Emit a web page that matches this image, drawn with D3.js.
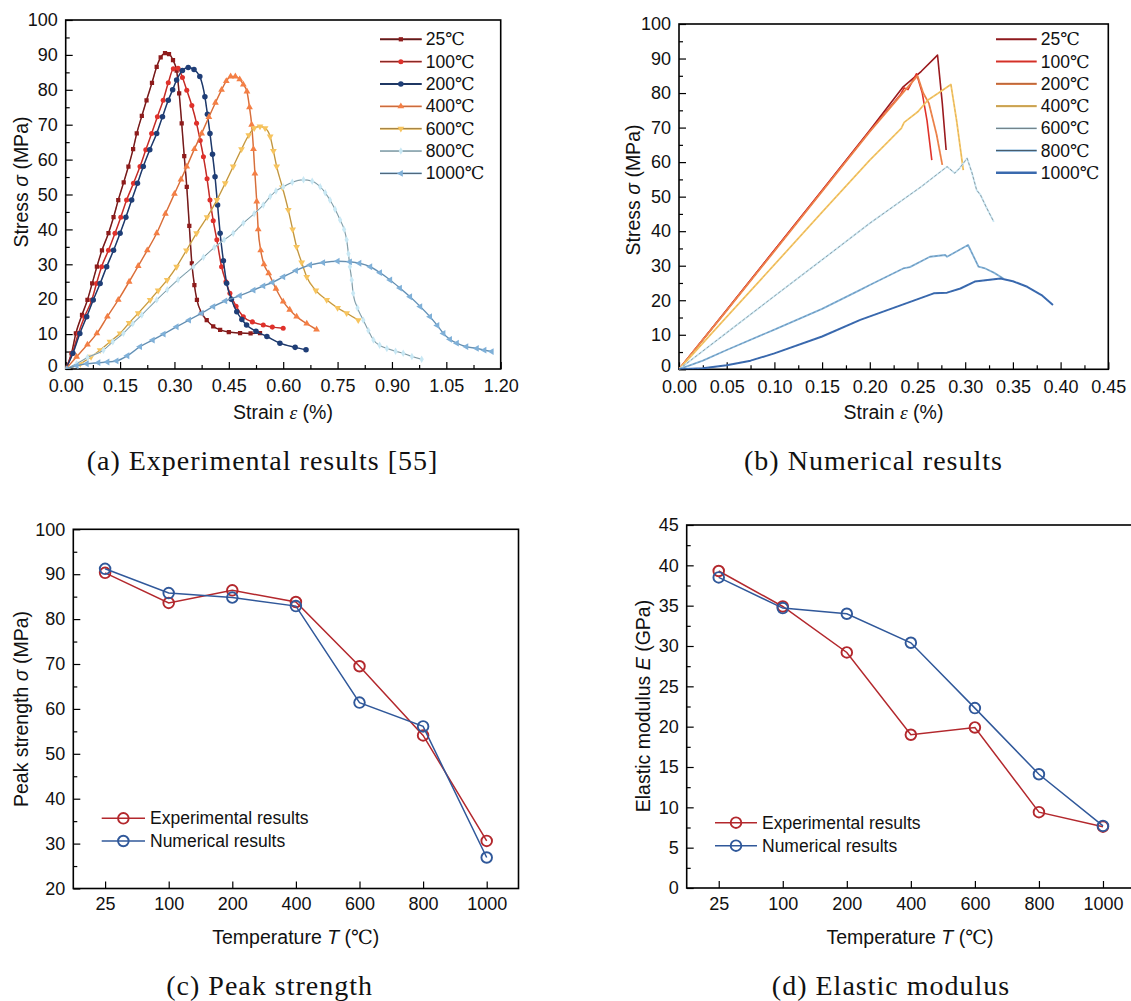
<!DOCTYPE html>
<html><head><meta charset="utf-8">
<script src="https://cdn.jsdelivr.net/npm/d3@7"></script>
<style>
body{margin:0;background:#fff}
svg{display:block}
text{font-family:"Liberation Sans",Arial,sans-serif;fill:#111}
</style>
</head><body>
<script>
// ---------------- DATA ----------------
const temps = ["25", "100", "200", "400", "600", "800", "1000"];

// (a) experimental stress-strain curves: [strain %, stress MPa]
const exp25 = [[0,0],[0.016,4.5],[0.028,10.2],[0.045,15.5],[0.060,19.8],[0.073,24.5],[0.086,29.3],[0.100,34],[0.118,38.9],[0.132,43.5],[0.145,48.4],[0.160,53.5],[0.173,58],[0.186,63],[0.196,67.5],[0.210,72.5],[0.223,77],[0.238,82],[0.251,86.6],[0.262,89.3],[0.274,90.5],[0.285,90.2],[0.296,88.5],[0.306,85.5],[0.313,79],[0.320,70.4],[0.327,61],[0.334,52.2],[0.341,41],[0.348,30.3],[0.355,24],[0.362,19.8],[0.375,16],[0.389,14],[0.407,12.2],[0.426,11.2],[0.450,10.6],[0.481,10.3],[0.510,10.2],[0.536,10.3]];
const exp100 = [[0,0],[0.018,4.5],[0.035,10.2],[0.052,15],[0.072,19.8],[0.085,24.5],[0.099,29.3],[0.118,34],[0.136,38.9],[0.152,43.5],[0.168,48.4],[0.187,53.2],[0.205,58],[0.221,62.8],[0.237,67.5],[0.253,72.3],[0.269,77],[0.283,82],[0.297,86],[0.310,86.2],[0.322,83.5],[0.334,79.9],[0.348,75.5],[0.361,70.4],[0.371,65.5],[0.380,60.8],[0.390,54.5],[0.398,48.4],[0.407,42.5],[0.417,37],[0.430,29.3],[0.442,25],[0.453,21.7],[0.470,18],[0.490,15],[0.515,13.5],[0.545,12.6],[0.570,12],[0.600,11.7]];
const exp200 = [[0,0],[0.020,4.5],[0.039,10.2],[0.058,15],[0.076,19.8],[0.095,24.5],[0.113,29.3],[0.132,34],[0.150,38.9],[0.166,43.5],[0.182,48.4],[0.198,53.2],[0.214,58],[0.232,62.8],[0.251,67.5],[0.267,72.3],[0.283,77],[0.295,80],[0.306,82.8],[0.322,85.5],[0.338,86.4],[0.354,85.8],[0.370,83.8],[0.384,78],[0.391,73],[0.398,67.5],[0.405,61.5],[0.412,55.1],[0.419,47],[0.426,38.9],[0.435,31],[0.444,24.6],[0.457,20],[0.472,16.4],[0.486,14.2],[0.499,12.6],[0.525,10.8],[0.555,9.3],[0.591,7.4],[0.633,6.2],[0.663,5.5]];
const exp400 = [[0,0],[0.030,3.5],[0.060,7],[0.086,10.2],[0.115,15],[0.145,19.8],[0.175,25],[0.200,29.5],[0.225,34],[0.251,38.9],[0.275,44.5],[0.300,50.2],[0.318,54.3],[0.334,58],[0.355,63],[0.375,67.5],[0.395,72.2],[0.413,76.3],[0.430,80],[0.443,82.5],[0.455,83.8],[0.468,83.8],[0.480,83],[0.490,81.5],[0.500,79.5],[0.507,75],[0.513,70],[0.518,63],[0.522,56],[0.527,48],[0.531,40],[0.538,34],[0.547,30],[0.560,27.4],[0.580,23],[0.600,19.3],[0.618,17],[0.637,15],[0.665,13],[0.692,11.3]];
const exp600 = [[0,0],[0.040,1.5],[0.070,3.5],[0.095,5.4],[0.122,7.8],[0.150,10.2],[0.175,13.2],[0.200,16],[0.233,19.8],[0.255,22.5],[0.280,25.5],[0.306,29.3],[0.333,34],[0.361,38.9],[0.390,43.5],[0.417,48.4],[0.440,53.2],[0.462,58],[0.485,63],[0.505,67],[0.520,69],[0.536,69.5],[0.550,69],[0.564,66.6],[0.573,62.5],[0.582,58],[0.598,52],[0.614,45.6],[0.626,40],[0.637,35],[0.651,30.5],[0.665,26.4],[0.690,22.5],[0.720,19.8],[0.750,17.5],[0.775,16],[0.807,14]];
const exp800 = [[0,0],[0.030,1.5],[0.060,3.3],[0.104,5.4],[0.130,7.8],[0.159,10.2],[0.185,13],[0.210,15.5],[0.251,19.8],[0.280,22.7],[0.310,25.6],[0.352,29.3],[0.380,32],[0.410,34.8],[0.437,37],[0.462,38.9],[0.490,41.8],[0.520,44.5],[0.545,47],[0.564,49.4],[0.580,51],[0.600,52.2],[0.625,53.5],[0.656,54.2],[0.680,53.8],[0.702,52.2],[0.716,50.5],[0.729,48.4],[0.743,45.8],[0.757,42.7],[0.768,40],[0.775,37],[0.780,33],[0.784,29.3],[0.789,25.5],[0.793,21.7],[0.805,17.5],[0.821,14],[0.835,11],[0.849,8.3],[0.866,6.8],[0.886,5.9],[0.910,5.1],[0.931,4.5],[0.955,3.6],[0.982,2.8]];
const exp1000 = [[0,0],[0.030,0.9],[0.058,1.5],[0.090,1.8],[0.115,2],[0.140,2.3],[0.170,3.8],[0.205,6.4],[0.240,8.3],[0.270,10],[0.306,12.1],[0.340,14],[0.375,16],[0.407,17.9],[0.440,19.5],[0.480,21],[0.518,22.6],[0.545,23.8],[0.570,24.8],[0.600,26.4],[0.635,28.2],[0.674,29.8],[0.710,30.5],[0.750,30.9],[0.784,30.7],[0.810,30.3],[0.840,29.3],[0.867,27.6],[0.895,25.5],[0.922,23.2],[0.950,20.7],[0.978,17.9],[1.005,15],[1.025,12.5],[1.042,10.2],[1.060,8.5],[1.079,7.4],[1.105,6.4],[1.134,5.9],[1.155,5.4],[1.175,5.0]];

// (b) numerical stress-strain curves
const num25 = [[0,0],[0.05,17.2],[0.10,34.5],[0.15,51.8],[0.20,69.2],[0.235,81.8],[0.254,86.3],[0.271,91],[0.276,77],[0.280,63.5]];
const num100 = [[0,0],[0.05,17.2],[0.10,34.5],[0.15,51.8],[0.20,69],[0.232,79.5],[0.236,81.5],[0.240,81],[0.249,85.6],[0.255,80],[0.260,72],[0.265,60.6]];
const num200 = [[0,0],[0.05,17],[0.10,34.2],[0.15,51.5],[0.20,68.8],[0.236,80.5],[0.250,85],[0.256,80],[0.262,77],[0.270,68],[0.276,59.2]];
const num400 = [[0,0],[0.05,15.2],[0.10,30.3],[0.15,45.5],[0.20,60.6],[0.233,69.8],[0.236,71.5],[0.250,74.5],[0.261,78],[0.272,80],[0.285,82.5],[0.291,72],[0.298,57.7]];
const num600 = [[0,0],[0.05,10.6],[0.10,21.2],[0.15,31.7],[0.20,42.3],[0.254,52.9],[0.281,58.7],[0.289,56.8],[0.294,58.2],[0.302,61.1],[0.307,57],[0.312,51.9],[0.316,50.5],[0.322,47],[0.330,42.7]];
const num800 = [[0,0],[0.025,2.5],[0.05,5.6],[0.10,11.5],[0.15,17.5],[0.19,23],[0.20,24.4],[0.235,29.2],[0.242,29.6],[0.263,32.6],[0.279,33.1],[0.281,32.6],[0.303,36],[0.314,29.7],[0.321,29.2],[0.330,28],[0.340,26.3]];
const num1000 = [[0,0],[0.025,0.3],[0.05,1.2],[0.075,2.5],[0.10,4.6],[0.15,9.5],[0.19,14.3],[0.23,18.3],[0.267,22],[0.281,22.2],[0.295,23.4],[0.310,25.4],[0.337,26.3],[0.350,25.5],[0.365,23.9],[0.380,21.5],[0.392,18.6]];

// (c) peak strength (MPa)
const peakExp = [90.3, 83.6, 86.4, 83.8, 69.5, 54.1, 30.6];
const peakNum = [91.2, 85.8, 84.8, 82.9, 61.4, 56.1, 26.9];
// (d) elastic modulus (GPa)
const modExp = [39.3, 34.9, 29.2, 19.0, 19.9, 9.4, 7.6];
const modNum = [38.5, 34.7, 34.0, 30.4, 22.3, 14.1, 7.7];

// tick values
const aXTicks = [0, 0.15, 0.30, 0.45, 0.60, 0.75, 0.90, 1.05, 1.20];
const bXTicks = [0, 0.05, 0.10, 0.15, 0.20, 0.25, 0.30, 0.35, 0.40, 0.45];
const stressTicks = [0, 10, 20, 30, 40, 50, 60, 70, 80, 90, 100];
const peakTicks = [20, 30, 40, 50, 60, 70, 80, 90, 100];
const modTicks = [0, 5, 10, 15, 20, 25, 30, 35, 40, 45];

const seriesNames = ["Experimental results", "Numerical results"];

// ---------------- STYLE ----------------
const expColors = ["#8E1B1B", "#E0312B", "#1F3E77", "#F47F45", "#F7C45E", "#C9E8F4", "#7FB0D8"];
const numColors = ["#9A1A1E", "#E0332A", "#F2874E", "#F8C765", "#CBE7F3", "#84B5DC", "#3C6DB4"];
const redC = "#B3282D", blueC = "#30589A";

const W = 1131, H = 1001;
const svg = d3.select("body").append("svg").attr("width", W).attr("height", H);

function frame(x0, x1, y0, y1) {
  svg.append("rect").attr("x", x0).attr("y", y0).attr("width", x1 - x0).attr("height", y1 - y0)
    .attr("fill", "none").attr("stroke", "#000").attr("stroke-width", 1.6);
}
function styleAxis(g) {
  g.select(".domain").remove();
  g.selectAll(".tick line").attr("stroke", "#000").attr("stroke-width", 1.2);
  g.selectAll(".tick text").attr("font-size", 18).attr("fill", "#111")
    .style("font-family", '"Liberation Sans", Arial, sans-serif');
}
function mids(arr) { const m = []; for (let i = 0; i < arr.length - 1; i++) m.push((arr[i] + arr[i + 1]) / 2); return m; }

function yTitle(cx, cy, parts) {
  const t = svg.append("text").attr("transform", `translate(${cx},${cy}) rotate(-90)`)
    .attr("text-anchor", "middle").attr("dominant-baseline", "central").attr("font-size", 19.5);
  parts.forEach(p => { const s = t.append("tspan").text(p.t); if (p.i) s.attr("font-style", "italic"); if (p.f) s.style("font-family", p.f); });
}
function xTitle(cx, cy, parts) {
  const t = svg.append("text").attr("x", cx).attr("y", cy)
    .attr("text-anchor", "middle").attr("dominant-baseline", "central").attr("font-size", 19.5);
  parts.forEach(p => { const s = t.append("tspan").text(p.t); if (p.i) s.attr("font-style", "italic"); if (p.f) s.style("font-family", p.f); });
}
function caption(cx, cy, txt) {
  svg.append("text").attr("x", cx).attr("y", cy).attr("text-anchor", "middle").attr("dominant-baseline", "central")
    .attr("font-size", 28).attr("letter-spacing", 1).style("font-family", '"Liberation Serif", "Times New Roman", serif')
    .attr("fill", "#2a2a2a").text(txt);
}
const SERIF = '"Liberation Serif","DejaVu Serif",serif';
const SYMS = [
  {t: d3.symbolSquare, r: 0, s: 18}, {t: d3.symbolCircle, r: 0, s: 20}, {t: d3.symbolCircle, r: 0, s: 24},
  {t: d3.symbolTriangle, r: 0, s: 20}, {t: d3.symbolTriangle, r: 180, s: 20}, {t: d3.symbolDiamond, r: 0, s: 16},
  {t: d3.symbolTriangle, r: -90, s: 20}
];

// ---------------- PANEL (a) & (b) ----------------
function strainPanel(cfg) {
  const x = d3.scaleLinear().domain([0, cfg.xmax]).range([cfg.x0, cfg.x1]);
  const y = d3.scaleLinear().domain([0, 100]).range([cfg.y1, cfg.y0]);
  const gxm = svg.append("g").attr("transform", `translate(0,${cfg.y1})`)
    .call(d3.axisBottom(x).tickValues(mids(cfg.xt)).tickSize(-4).tickFormat(""));
  styleAxis(gxm);
  const gx = svg.append("g").attr("transform", `translate(0,${cfg.y1})`)
    .call(d3.axisBottom(x).tickValues(cfg.xt).tickSize(-7).tickSizeOuter(0).tickPadding(10.5).tickFormat(d3.format(".2f")));
  styleAxis(gx);
  const gym = svg.append("g").attr("transform", `translate(${cfg.x0},0)`)
    .call(d3.axisLeft(y).tickValues(mids(stressTicks)).tickSize(-4).tickFormat(""));
  styleAxis(gym);
  const gy = svg.append("g").attr("transform", `translate(${cfg.x0},0)`)
    .call(d3.axisLeft(y).tickValues(stressTicks).tickSize(-7).tickSizeOuter(0).tickPadding(8).tickFormat(d3.format("d")));
  styleAxis(gy);
  gy.selectAll(".tick text").filter(d => d === 0).attr("dy", "0.12em");

  const line = d3.line().x(d => x(d[0])).y(d => y(d[1])).curve(cfg.curve);
  const clip = "clip" + cfg.id;
  svg.append("clipPath").attr("id", clip).append("rect").attr("x", cfg.x0).attr("y", cfg.y0)
    .attr("width", cfg.x1 - cfg.x0).attr("height", cfg.y1 - cfg.y0);
  const pg = svg.append("g").attr("clip-path", `url(#${clip})`);
  cfg.series.forEach((s, i) => {
    pg.append("path").attr("d", line(s)).attr("fill", "none").attr("stroke", cfg.colors[i])
      .attr("stroke-width", cfg.lw[i]).attr("stroke-linejoin", "round");
    if (cfg.dark[i] > 0)
      pg.append("path").attr("d", line(s)).attr("fill", "none").attr("stroke", "#222")
        .attr("stroke-width", 0.6).attr("stroke-opacity", cfg.dark[i]).attr("stroke-dasharray", cfg.dash ? "3,2" : null);
    if (cfg.markers) {
      pg.selectAll(null).data(s).enter().append("path")
        .attr("d", d3.symbol().type(SYMS[i].t).size(SYMS[i].s))
        .attr("transform", d => `translate(${x(d[0])},${y(d[1])}) rotate(${SYMS[i].r})`)
        .attr("fill", cfg.colors[i]).attr("stroke", "none");
    }
  });
  // legend
  temps.forEach((t, i) => {
    const ly = cfg.ly0 + i * cfg.ldy;
    svg.append("line").attr("x1", cfg.lx0).attr("x2", cfg.lx1).attr("y1", ly).attr("y2", ly)
      .attr("stroke", cfg.colors[i]).attr("stroke-width", cfg.lw[i] + 0.4);
    svg.append("line").attr("x1", cfg.lx0).attr("x2", cfg.lx1).attr("y1", ly).attr("y2", ly)
      .attr("stroke", "#222").attr("stroke-width", 0.8).attr("stroke-opacity", cfg.legDark[i]);
    if (cfg.markers)
      svg.append("path").attr("d", d3.symbol().type(SYMS[i].t).size(SYMS[i].s))
        .attr("transform", `translate(${(cfg.lx0 + cfg.lx1) / 2},${ly}) rotate(${SYMS[i].r})`).attr("fill", cfg.colors[i]);
    const tx = svg.append("text").attr("x", cfg.lx1 + 4).attr("y", ly).attr("dominant-baseline", "central").attr("font-size", 17.5);
    tx.append("tspan").text(t);
    tx.append("tspan").text("℃").style("font-family", SERIF).attr("font-size", 17.5);
  });
}

frame(65.7, 500.7, 20, 369);
strainPanel({
  id: "a", xmax: 1.2, x0: 65.7, x1: 500.7, y0: 20, y1: 369, xt: aXTicks,
  series: [exp25, exp100, exp200, exp400, exp600, exp800, exp1000], colors: expColors,
  lw: [1.5, 1.5, 1.5, 1.5, 1.5, 1.5, 1.5], dark: [0.5, 0.35, 0.3, 0.3, 0.55, 0.7, 0.45], dash: false,
  markers: true, curve: d3.curveMonotoneX,
  ly0: 39.3, ldy: 22.35, lx0: 380, lx1: 421.7, legDark: [0.8, 0.7, 0.6, 0.3, 0.6, 0.7, 0.7]
});
frame(679, 1108.3, 24, 369.3);
strainPanel({
  id: "b", xmax: 0.45, x0: 679, x1: 1108.3, y0: 24, y1: 369.3, xt: bXTicks,
  series: [num25, num100, num200, num400, num600, num800, num1000], colors: numColors,
  lw: [1.6, 1.6, 1.8, 1.8, 1.8, 1.8, 2.0], dark: [0, 0, 0.15, 0.2, 0.6, 0.35, 0.2], dash: true,
  markers: false, curve: d3.curveLinear,
  ly0: 39.3, ldy: 22.25, lx0: 996, lx1: 1036.7, legDark: [0.2, 0.1, 0.5, 0.5, 0.8, 0.8, 0.1]
});

yTitle(20.7, 182, [{t: "Stress "}, {t: "σ", i: true}, {t: " (MPa)"}]);
yTitle(633.3, 190, [{t: "Stress "}, {t: "σ", i: true}, {t: " (MPa)"}]);
xTitle(283, 411.7, [{t: "Strain "}, {t: "ε", i: true, f: SERIF}, {t: " (%)"}]);
xTitle(893.5, 411.7, [{t: "Strain "}, {t: "ε", i: true, f: SERIF}, {t: " (%)"}]);
caption(262.5, 460.5, "(a) Experimental results [55]");
caption(873.5, 460.5, "(b) Numerical results");

// ---------------- PANEL (c) & (d) ----------------
function tempPanel(cfg) {
  const x = d3.scalePoint().domain(temps).range([cfg.x0, cfg.x1]).padding(0.5);
  const y = d3.scaleLinear().domain(cfg.yd).range([cfg.y1, cfg.y0]);
  const gx = svg.append("g").attr("transform", `translate(0,${cfg.y1})`)
    .call(d3.axisBottom(x).tickSize(-7).tickSizeOuter(0).tickPadding(9));
  styleAxis(gx);
  const gym = svg.append("g").attr("transform", `translate(${cfg.x0},0)`)
    .call(d3.axisLeft(y).tickValues(mids(cfg.yt)).tickSize(-4).tickFormat(""));
  styleAxis(gym);
  const gy = svg.append("g").attr("transform", `translate(${cfg.x0},0)`)
    .call(d3.axisLeft(y).tickValues(cfg.yt).tickSize(-7).tickSizeOuter(0).tickPadding(8).tickFormat(d3.format("d")));
  styleAxis(gy);
  const line = d3.line().x((d, i) => x(temps[i])).y(d => y(d));
  [[cfg.e, redC], [cfg.n, blueC]].forEach(([vals, c]) => {
    svg.append("path").attr("d", line(vals)).attr("fill", "none").attr("stroke", c).attr("stroke-width", 1.5);
    svg.selectAll(null).data(vals).enter().append("circle")
      .attr("cx", (d, i) => x(temps[i])).attr("cy", d => y(d)).attr("r", 5.3)
      .attr("fill", "none").attr("stroke", c).attr("stroke-width", 1.9);
  });
  // legend
  [[redC, seriesNames[0], cfg.ly[0]], [blueC, seriesNames[1], cfg.ly[1]]].forEach(([c, name, ly]) => {
    svg.append("line").attr("x1", cfg.lx0).attr("x2", cfg.lx1).attr("y1", ly).attr("y2", ly)
      .attr("stroke", c).attr("stroke-width", 1.5);
    svg.append("circle").attr("cx", (cfg.lx0 + cfg.lx1) / 2).attr("cy", ly).attr("r", 5.3)
      .attr("fill", "none").attr("stroke", c).attr("stroke-width", 1.9);
    svg.append("text").attr("x", cfg.lx1 + 5).attr("y", ly).attr("dominant-baseline", "central")
      .attr("font-size", 17.5).text(name);
  });
}

frame(73.3, 518.5, 529.3, 888.5);
tempPanel({x0: 73.3, x1: 518.5, y0: 529.3, y1: 888.5, yd: [20, 100], yt: peakTicks,
  e: peakExp, n: peakNum, lx0: 101.7, lx1: 145, ly: [818.3, 841]});
frame(686.7, 1135, 525, 888);
tempPanel({x0: 686.7, x1: 1135, y0: 525, y1: 888, yd: [0, 45], yt: modTicks,
  e: modExp, n: modNum, lx0: 715, lx1: 757, ly: [822.7, 845.7]});

yTitle(20.7, 709, [{t: "Peak strength "}, {t: "σ", i: true}, {t: " (MPa)"}]);
yTitle(642.7, 706, [{t: "Elastic modulus "}, {t: "E", i: true}, {t: " (GPa)"}]);
xTitle(295.8, 936.7, [{t: "Temperature "}, {t: "T", i: true}, {t: " ("}, {t: "℃", f: SERIF}, {t: ")"}]);
xTitle(910, 936.7, [{t: "Temperature "}, {t: "T", i: true}, {t: " ("}, {t: "℃", f: SERIF}, {t: ")"}]);
caption(269.6, 985, "(c) Peak strength");
caption(891, 985, "(d) Elastic modulus");
</script>
</body></html>
